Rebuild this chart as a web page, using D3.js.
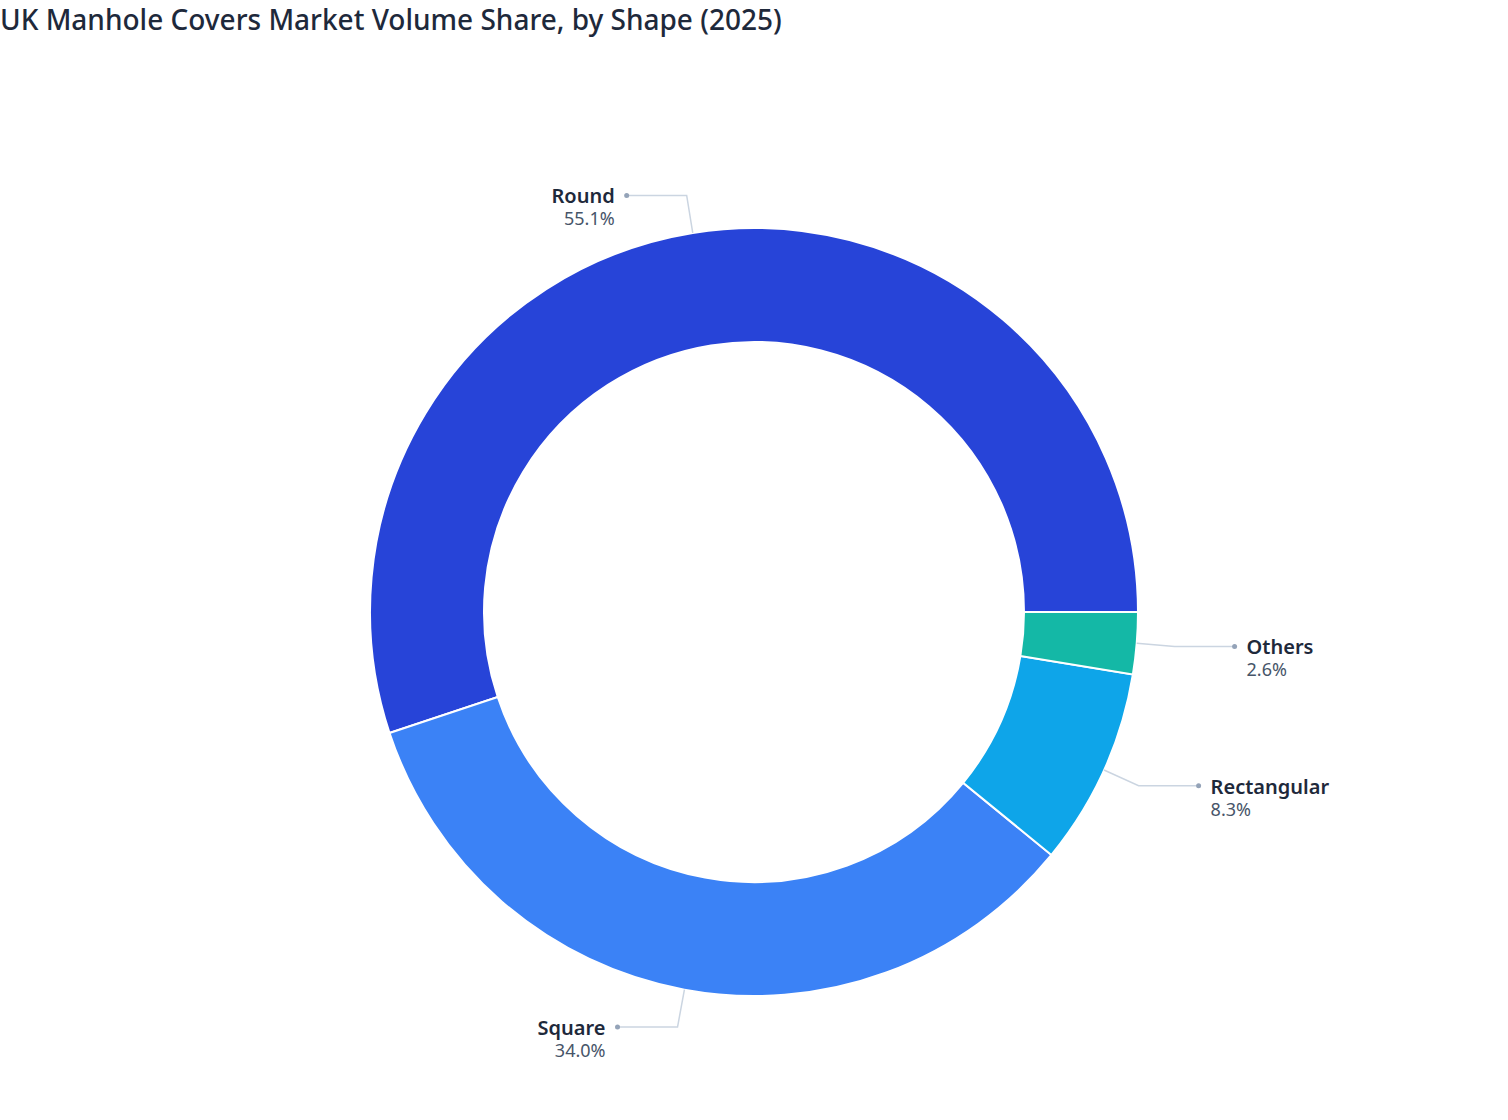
<html lang="en">
<head>
    <meta charset="UTF-8"/>
    <title>UK Manhole Covers Market Volume Share, by Shape (2025)</title>
    <script src="https://d3js.org/d3.v7.min.js"></script>
    <style>
        body { margin: 0; background: #ffffff; }
        svg { display: block; font-family: "Noto Sans", "Open Sans", sans-serif; }
    </style>
</head>
<body>
    <script>
        // data
        var shapes = ["Round", "Square", "Rectangular", "Others"];
        var shares = [55.1, 34.0, 8.3, 2.6];
        var colours = ["#2744d8", "#3b82f6", "#0ea5e9", "#14b8a6"];

        var w = 1508;
        var h = 1120;
        var cx = 754;
        var cy = 612;
        var outerR = 384;
        var innerR = 270;
        var elbowR = 422;
        var legLen = 60;

        var dataset = shapes.map(function(s, i) {
            return { name: s, value: shares[i], colour: colours[i] };
        });

        var svg = d3.select("body")
                    .append("svg")
                    .attr("width", w)
                    .attr("height", h);

        svg.append("text")
            .attr("x", 0)
            .attr("y", 30)
            .attr("fill", "#1e293b")
            .attr("font-size", 28)
            .attr("font-weight", 500)
            .text("UK Manhole Covers Market Volume Share, by Shape (2025)");

        // start at 3 o'clock and run anticlockwise
        var pie = d3.pie()
                    .sort(null)
                    .value(function(d) { return d.value; })
                    .startAngle(Math.PI / 2)
                    .endAngle(Math.PI / 2 - 2 * Math.PI);

        var arc = d3.arc()
                    .innerRadius(innerR)
                    .outerRadius(outerR);

        var arcs = pie(dataset);

        var g = svg.append("g")
                   .attr("transform", "translate(" + cx + "," + cy + ")");

        g.selectAll("path")
            .data(arcs)
            .enter()
            .append("path")
            .attr("d", arc)
            .attr("fill", function(d) { return d.data.colour; })
            .attr("stroke", "#ffffff")
            .attr("stroke-width", 2);

        function pointAt(a, r) {
            return [Math.sin(a) * r, -Math.cos(a) * r];
        }

        var labels = g.selectAll("g.label")
            .data(arcs)
            .enter()
            .append("g")
            .attr("class", "label");

        labels.each(function(d) {
            var mid = (d.startAngle + d.endAngle) / 2;
            var p0 = pointAt(mid, outerR);
            var p1 = pointAt(mid, elbowR);
            var right = p1[0] > 0;
            var p2 = [p1[0] + (right ? legLen : -legLen), p1[1]];
            var sel = d3.select(this);

            sel.append("polyline")
                .attr("points", [p0, p1, p2].map(function(p) { return p.join(","); }).join(" "))
                .attr("fill", "none")
                .attr("stroke", "#cbd5e1")
                .attr("stroke-width", 1.5);

            sel.append("circle")
                .attr("cx", p2[0])
                .attr("cy", p2[1])
                .attr("r", 2.5)
                .attr("fill", "#94a3b8");

            var tx = p2[0] + (right ? 12 : -12);
            var anchor = right ? "start" : "end";

            sel.append("text")
                .attr("x", tx)
                .attr("y", p2[1] + 8)
                .attr("text-anchor", anchor)
                .attr("font-size", 20)
                .attr("font-weight", 600)
                .attr("fill", "#1e293b")
                .text(d.data.name);

            sel.append("text")
                .attr("x", tx)
                .attr("y", p2[1] + 30)
                .attr("text-anchor", anchor)
                .attr("font-size", 18)
                .attr("fill", "#475569")
                .text(d.data.value.toFixed(1) + "%");
        });
    </script>
</body>
</html>
